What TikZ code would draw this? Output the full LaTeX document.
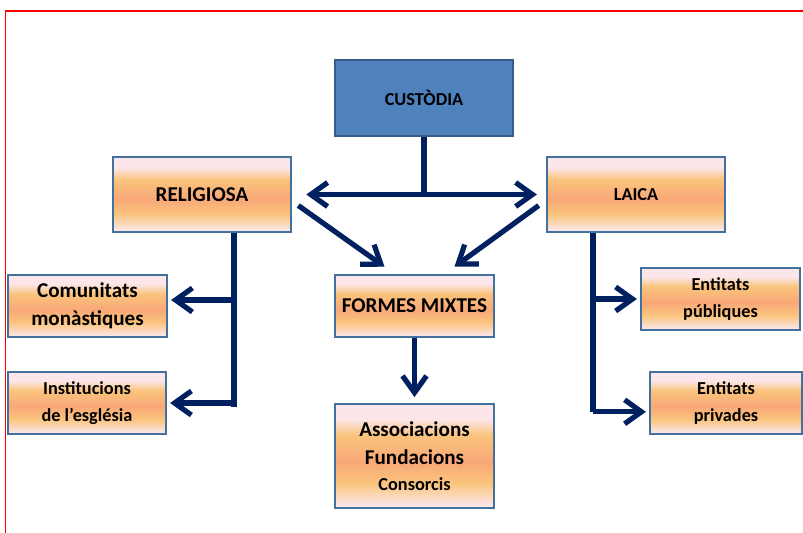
\documentclass[tikz,border=0pt]{standalone}
\usepackage{fontspec}
\setmainfont{Carlito}
\usetikzlibrary{arrows.meta}
\definecolor{navy}{HTML}{002060}
\definecolor{boxline}{HTML}{41719C}
\definecolor{custfill}{HTML}{4F81BD}
\definecolor{custline}{HTML}{385D8A}
\definecolor{shpink}{HTML}{FCE6EA}
\definecolor{shyellow}{HTML}{FAC47C}
\definecolor{shsalmon}{HTML}{F9A878}
\pgfdeclareverticalshading{boxshade}{100bp}{color(0bp)=(shpink); color(26bp)=(shpink); color(37bp)=(shyellow); color(47bp)=(shsalmon); color(60bp)=(shyellow); color(68bp)=(shpink); color(100bp)=(shpink)}

\begin{document}
\begin{tikzpicture}[x=0.025cm, y=-0.025cm,
    box/.style ={draw=boxline, line width=1.8pt, shading=boxshade, align=center, inner sep=0pt, font=\bfseries},
    big/.style ={font=\bfseries\fontsize{15}{20}\selectfont},
    small/.style ={font=\bfseries\fontsize{13}{19}\selectfont},
    link/.style ={draw=navy, line width=3.7pt},
    arrow/.style ={link, -{Straight Barb[length=0.42cm,width=0.6cm]}}]
   \useasboundingbox (0,0) rectangle (803,533);
   \draw[red, line width=1pt] (803,11) -- (5.5,11) -- (5.5,533);
   \node[draw=custline, line width=1.8pt, fill=custfill, minimum width=4.45cm, minimum height=1.9cm, small] (custodia) at (424,98) {CUSTÒDIA};
   \node[box, big, minimum width=4.45cm, minimum height=1.875cm] (religiosa) at (202,194.5) {RELIGIOSA};
   \node[box, small, minimum width=4.45cm, minimum height=1.875cm] (laica) at (636,194.5) {LAICA};
   \node[box, big, minimum width=3.975cm, minimum height=1.55cm] (mixtes) at (414.5,306) {FORMES MIXTES};
   \node[box, big, minimum width=3.975cm, minimum height=2.6cm] (assoc) at (414.5,456) {Associacions\\Fundacions\\[-2pt]{\fontsize{13}{15}\selectfont Consorcis}};
   \node[box, big, minimum width=3.975cm, minimum height=1.55cm] (comunitats) at (87.5,306) {Comunitats\\monàstiques};
   \node[box, small, minimum width=3.95cm, minimum height=1.55cm] (institucions) at (87,403) {Institucions\\de l’església};
   \node[box, small, minimum width=3.975cm, minimum height=1.55cm] (publiques) at (720.5,299) {Entitats\\públiques};
   \node[box, small, minimum width=3.8cm, minimum height=1.55cm] (privades) at (726,403) {Entitats\\privades};
   % custodia
   \draw[link] (custodia.south) -- (custodia.south |- religiosa.east);
   \draw[link, {Straight Barb[length=0.42cm,width=0.6cm]}-{Straight Barb[length=0.42cm,width=0.6cm]}, shorten <=0.35cm, shorten >=0.22cm] (religiosa.east) -- (laica.west);
   \draw[arrow] ([shift={(6,11)}]religiosa.east) -- ([shift={(-30,-7)}]mixtes.north);
   \draw[arrow] ([shift={(-7,11)}]laica.west) -- ([shift={(40,-7)}]mixtes.north);
   % religiosa
   \coordinate (rs) at ([xshift=0.8cm]religiosa.south);
   \draw[link] (rs) -- (rs |- institucions.east) -- ++(0,4);
   \draw[arrow, shorten >=2pt] ([yshift=0.15cm]rs |- comunitats.east) -- ([yshift=0.15cm]comunitats.east);
   \draw[arrow, shorten >=2pt] (rs |- institucions.east) -- (institucions.east);
   % laica
   \coordinate (ls) at ([xshift=-1.075cm]laica.south);
   \draw[link] (ls) -- ([yshift=-0.22cm]ls |- privades.west) -- ++(0,-4);
   \draw[arrow, shorten >=2pt] (ls |- publiques.west) -- (publiques.west);
   \draw[arrow, shorten >=2pt] ([yshift=-0.22cm]ls |- privades.west) -- ([yshift=-0.22cm]privades.west);
   % mixtes
   \draw[arrow, shorten >=4pt] (mixtes.south) -- (assoc.north);
 \end{tikzpicture}
\end{document}
